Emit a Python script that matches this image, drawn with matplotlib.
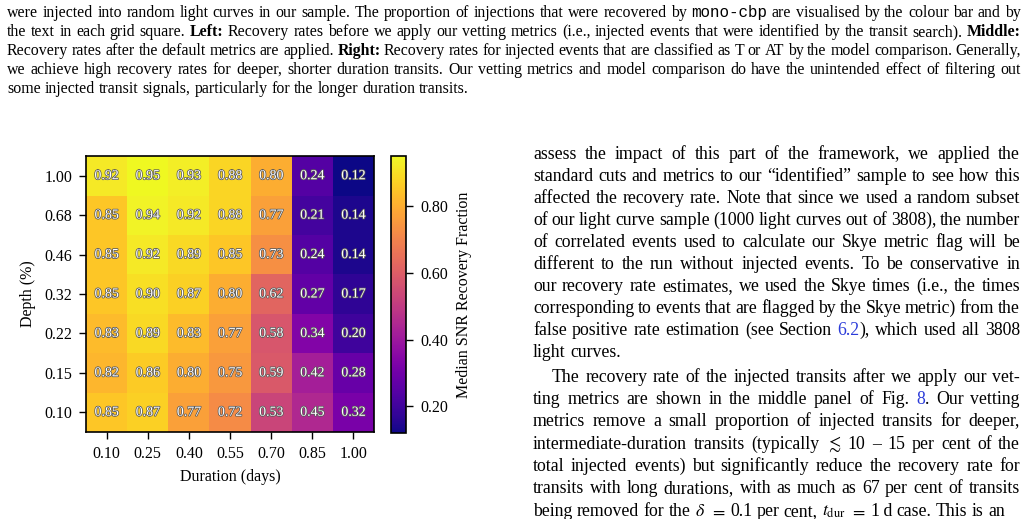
import re
import matplotlib
matplotlib.use('Agg')
import matplotlib.pyplot as plt
import matplotlib.patheffects as pe
from matplotlib.transforms import IdentityTransform
import numpy as np

W, H = 1025, 519

durations = [0.10, 0.25, 0.40, 0.55, 0.70, 0.85, 1.00]
depths = [0.10, 0.15, 0.22, 0.32, 0.46, 0.68, 1.00]

# recovery fraction, one row per depth (bottom row = 0.10 per cent)
rec_010 = [0.85, 0.87, 0.77, 0.72, 0.53, 0.45, 0.32]
rec_015 = [0.82, 0.86, 0.80, 0.75, 0.59, 0.42, 0.28]
rec_022 = [0.83, 0.89, 0.83, 0.77, 0.58, 0.34, 0.20]
rec_032 = [0.85, 0.90, 0.87, 0.80, 0.62, 0.27, 0.17]
rec_046 = [0.85, 0.92, 0.89, 0.85, 0.73, 0.24, 0.14]
rec_068 = [0.85, 0.94, 0.92, 0.88, 0.77, 0.21, 0.14]
rec_100 = [0.92, 0.95, 0.93, 0.88, 0.80, 0.24, 0.12]

cbar_ticks = [0.20, 0.40, 0.60, 0.80]

caption = [
    "were injected into random light curves in our sample. The proportion of injections that were recovered by <t>mono-cbp</t> are visualised by the colour bar and by",
    "the text in each grid square. <b>Left:</b> Recovery rates before we apply our vetting metrics (i.e., injected events that were identified by the transit search). <b>Middle:</b>",
    "Recovery rates after the default metrics are applied. <b>Right:</b> Recovery rates for injected events that are classified as T or AT by the model comparison. Generally,",
    "we achieve high recovery rates for deeper, shorter duration transits. Our vetting metrics and model comparison do have the unintended effect of filtering out",
    "some injected transit signals, particularly for the longer duration transits.",
]

para1 = [
    "assess the impact of this part of the framework, we applied the",
    "standard cuts and metrics to our \u201cidentified\u201d sample to see how this",
    "affected the recovery rate. Note that since we used a random subset",
    "of our light curve sample (1000 light curves out of 3808), the number",
    "of correlated events used to calculate our Skye metric flag will be",
    "different to the run without injected events. To be conservative in",
    "our recovery rate estimates, we used the Skye times (i.e., the times",
    "corresponding to events that are flagged by the Skye metric) from the",
    "false positive rate estimation (see Section <c>6.2</c>), which used all 3808",
    "light curves.",
]

para2 = [
    "The recovery rate of the injected transits after we apply our vet-",
    "ting metrics are shown in the middle panel of Fig. <c>8</c>. Our vetting",
    "metrics remove a small proportion of injected transits for deeper,",
    "intermediate-duration transits (typically $\\lesssim$ 10 \u2013 15 per cent of the",
    "total injected events) but significantly reduce the recovery rate for",
    "transits with long durations, with as much as 67 per cent of transits",
    "being removed for the $\\delta$ $=$ 0.1 per cent, $t_{\\mathrm{dur}}$ $=$ 1\u2009d case. This is an",
]

SERIF = ['Liberation Serif', 'DejaVu Serif']
LINK = '#2b3bd9'
SEG = re.compile(r'<(b|t|c)>(.*?)</\1>')

plt.rcParams['font.family'] = SERIF
plt.rcParams['mathtext.fontset'] = 'stix'


def word_segments(word):
    segs = []
    pos = 0
    for m in SEG.finditer(word):
        if m.start() > pos:
            segs.append(('', word[pos:m.start()]))
        segs.append((m.group(1), m.group(2)))
        pos = m.end()
    if pos < len(word):
        segs.append(('', word[pos:]))
    return segs


def seg_style(kind, size):
    st = dict(fontsize=size, family=SERIF, color='black')
    if kind == 'b':
        st['fontweight'] = 'bold'
    if kind == 't':
        st['family'] = ['Liberation Mono', 'DejaVu Sans Mono']
    if kind == 'c':
        st['color'] = LINK
    return st


def put_line(fig, renderer, line, x0, x1, y, size, justify=True):
    # place words one by one (in pixels) so the line can be stretched to full width
    base = H - round(y)
    words = []
    for w in line.split(' '):
        arts = []
        for kind, s in word_segments(w):
            t = fig.text(0, base, s, va='baseline', ha='left',
                         transform=IdentityTransform(), **seg_style(kind, size))
            arts.append((t, t.get_window_extent(renderer).width))
        words.append(arts)
    widths = [sum(a[1] for a in arts) for arts in words]
    if justify and len(words) > 1:
        gap = (x1 - x0 - sum(widths)) / (len(words) - 1)
    else:
        gap = size * 100 / 72 * 0.25
    x = x0
    for arts, wd in zip(words, widths):
        xx = x
        for t, tw in arts:
            t.set_position((xx, base))
            xx += tw
        x += wd + gap


def put_paragraph(fig, renderer, lines, x0, x1, ys, size, indent=0):
    for i, (line, y) in enumerate(zip(lines, ys)):
        last = i == len(lines) - 1
        put_line(fig, renderer, line, x0 + (indent if i == 0 else 0), x1, y, size,
                 justify=not last)


def plot_heatmap(fig):
    grid = np.array([rec_010, rec_015, rec_022, rec_032, rec_046, rec_068, rec_100])
    ax = fig.add_axes([86 / W, 1 - 432 / H, 288 / W, 276 / H])
    cax = fig.add_axes([391 / W, 1 - 433 / H, 15 / W, 277 / H])
    im = ax.imshow(grid, cmap='plasma', origin='lower', aspect='auto',
                   vmin=grid.min(), vmax=grid.max())
    for i in range(len(depths)):
        for j in range(len(durations)):
            ax.text(j, i, '%.2f' % grid[i, j], ha='center', va='center',
                    fontsize=10, color='white',
                    path_effects=[pe.withStroke(linewidth=1.1, foreground='0.35')])
    ax.set_xticks(range(len(durations)))
    ax.set_xticklabels(['%.2f' % d for d in durations])
    ax.set_yticks(range(len(depths)))
    ax.set_yticklabels(['%.2f' % d for d in depths])
    ax.tick_params(labelsize=11.5, length=5, width=1, pad=5)
    ax.set_xlabel('Duration (days)', fontsize=11.5, labelpad=5)
    ax.set_ylabel('Depth (%)', fontsize=11.5, labelpad=6)
    for s in ax.spines.values():
        s.set_linewidth(1.2)

    cb = fig.colorbar(im, cax=cax, format='%.2f')
    cb.set_ticks(cbar_ticks)
    cb.ax.tick_params(labelsize=11.5, length=5, width=1, pad=5)
    cb.outline.set_linewidth(1.2)
    cb.set_label('Median SNR Recovery Fraction', fontsize=11.5, labelpad=6)


if __name__ == "__main__":
    fig = plt.figure(figsize=(W / 100, H / 100), dpi=100)
    renderer = fig.canvas.get_renderer()

    cap_ys = [17, 36, 55, 74, 93]
    put_paragraph(fig, renderer, caption, 7, 1021, cap_ys, 11.4)

    p1_ys = [159 + 22 * i for i in range(len(para1))]
    put_paragraph(fig, renderer, para1, 533, 1020, p1_ys, 12.8)
    p2_ys = [382 + 22.25 * i for i in range(len(para2))]
    put_paragraph(fig, renderer, para2, 533, 1020, p2_ys, 12.8, indent=19)

    plot_heatmap(fig)
    fig.savefig('out.png', dpi=100)
